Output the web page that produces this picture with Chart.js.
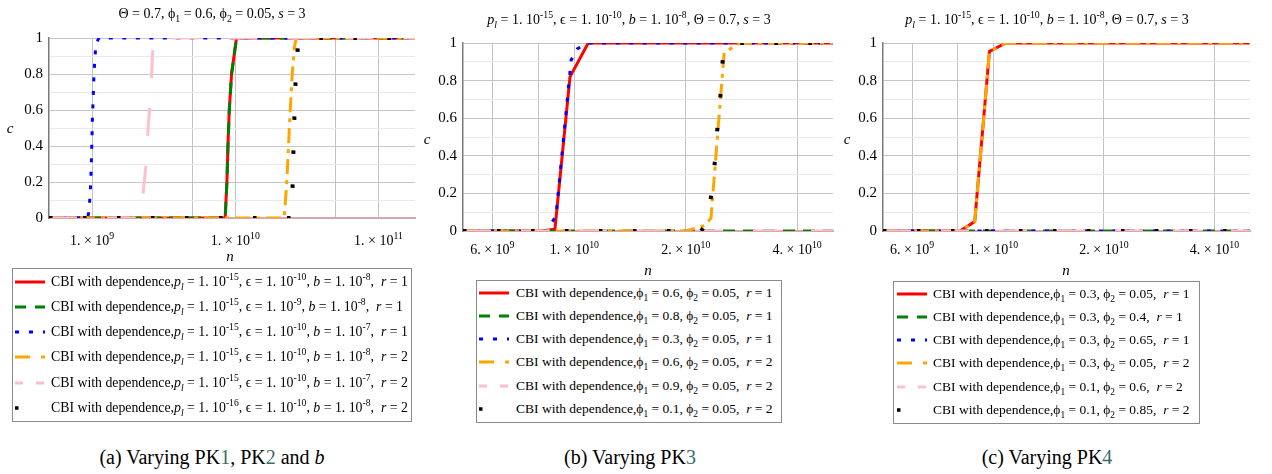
<!DOCTYPE html>
<html><head><meta charset="utf-8">
<script src="https://cdn.jsdelivr.net/npm/chart.js@4.4.0/dist/chart.umd.min.js"></script>
<style>
body{margin:0;background:#fff;width:1272px;height:474px;position:relative;overflow:hidden;font-family:"Liberation Serif","Times New Roman",serif;color:#000}
canvas{position:absolute}
.t{position:absolute;white-space:nowrap;transform:translateX(-50%);line-height:18px}
.ttl{font-size:14px}
.lab{font-style:italic;font-size:15px}
.xt{font-size:14px}
sub,sup{font-size:70%;line-height:0}
.lg{position:absolute;border:1.5px solid #8a8a8a;box-sizing:border-box;background:#fff}
.row{position:absolute;left:0;right:0;height:20px;white-space:nowrap}
.row svg{position:absolute;top:6px}
.row span{position:absolute;top:0;line-height:20px}
.cap{position:absolute;white-space:nowrap;transform:translateX(-50%);font-size:20px;line-height:24px}
.lk{color:#3a6b6b}
</style></head><body>
<canvas id="ca" width="425" height="250" style="left:0;top:0"></canvas>
<canvas id="cb" width="415" height="263" style="left:430px;top:0"></canvas>
<canvas id="cc" width="422" height="263" style="left:850px;top:0"></canvas>

<div class="t ttl" style="left:212px;top:5px">&Theta; = 0.7, &#981;<sub>1</sub> = 0.6, &#981;<sub>2</sub> = 0.05, <i>s</i> = 3</div>
<div class="t ttl" style="left:629px;top:11px"><i>p</i><sub><i>l</i></sub> = 1. 10<sup>-15</sup>, &#1013; = 1. 10<sup>-10</sup>, <i>b</i> = 1. 10<sup>-8</sup>, &Theta; = 0.7, <i>s</i> = 3</div>
<div class="t ttl" style="left:1047px;top:11px"><i>p</i><sub><i>l</i></sub> = 1. 10<sup>-15</sup>, &#1013; = 1. 10<sup>-10</sup>, <i>b</i> = 1. 10<sup>-8</sup>, &Theta; = 0.7, <i>s</i> = 3</div>

<div class="t lab" style="left:10px;top:119px">c</div>
<div class="t lab" style="left:427px;top:130px">c</div>
<div class="t lab" style="left:847px;top:130px">c</div>
<div class="t lab" style="left:230px;top:247px">n</div>
<div class="t lab" style="left:648px;top:261px">n</div>
<div class="t lab" style="left:1066px;top:261px">n</div>

<div id="lga" class="lg" style="left:12px;top:268px;width:400px;height:154px"></div>
<div id="lgb" class="lg" style="left:476px;top:280px;width:306px;height:143px"></div>
<div id="lgc" class="lg" style="left:893px;top:281px;width:307px;height:143px"></div>

<div class="cap" style="left:212px;top:445px">(a) Varying PK<span class="lk">1</span>, PK<span class="lk">2</span> and <i>b</i></div>
<div class="cap" style="left:630px;top:445px">(b) Varying PK<span class="lk">3</span></div>
<div class="cap" style="left:1047px;top:445px">(c) Varying PK<span class="lk">4</span></div>

<script>
// ---------- data ----------
// Panel (a): x = n (log), y = c
const aRedN   = [5e8, 8.5e9, 8.74e9, 8.89e9, 9.08e9, 9.42e9, 1.02e10, 1.8e11];
const aRedC   = [0, 0, 0.2, 0.4, 0.6, 0.8, 1, 1];
const aGreenN = [5e8, 8.5e9, 8.74e9, 8.89e9, 9.08e9, 9.42e9, 1.02e10, 1.8e11];
const aGreenC = [0, 0, 0.2, 0.4, 0.6, 0.8, 1, 1];
const aBlueN  = [5e8, 9.3e8, 9.53e8, 9.79e8, 9.95e8, 1.005e9, 1.021e9, 1.033e9, 1.05e9, 1.062e9, 1.12e9, 1.8e11];
const aBlueC  = [0, 0, 0.04, 0.2, 0.4, 0.55, 0.7, 0.82, 0.9, 0.97, 1, 1];
const aOrangeN= [5e8, 2.19e10, 2.21e10, 2.29e10, 2.42e10, 2.50e10, 2.59e10, 2.67e10, 1.8e11];
const aOrangeC= [0, 0, 0.03, 0.2, 0.6, 0.8, 0.95, 1, 1];
const aPinkN  = [5e8, 2.18e9, 2.28e9, 2.38e9, 2.47e9, 2.58e9, 2.62e9, 2.68e9, 1.8e11];
const aPinkC  = [0, 0, 0.15, 0.3, 0.52, 0.69, 0.85, 1, 1];
const aBlackN = [5e8, 2.44e10, 2.46e10, 2.52e10, 2.55e10, 2.59e10, 2.64e10, 2.74e10, 2.81e10, 1.8e11];
const aBlackC = [0, 0, 0.01, 0.2, 0.39, 0.57, 0.77, 0.96, 1, 1];

// Panel (b)
const bRedN   = [5e9, 8.13e9, 8.86e9, 9.73e9, 1.09e10, 5e10];
const bRedC   = [0, 0, 0.01, 0.82, 1, 1];
const bGreenN = [5e9, 5e10];
const bGreenC = [0, 0];
const bBlueN  = [5e9, 8.4e9, 8.59e9, 8.92e9, 9.8e9, 1.02e10, 1.09e10, 5e10];
const bBlueC  = [0, 0, 0.03, 0.08, 0.91, 0.97, 1, 1];
const bOrangeN= [5e9, 2.0e10, 2.26e10, 2.34e10, 2.54e10, 2.70e10, 2.8e10, 5e10];
const bOrangeC= [0, 0, 0.03, 0.07, 0.95, 0.98, 1, 1];
const bPinkN  = [5e9, 5e10];
const bPinkC  = [0, 0];
const bBlackN = [5e9, 2.2e10, 2.26e10, 2.35e10, 2.40e10, 2.44e10, 2.49e10, 2.52e10, 2.6e10, 5e10];
const bBlackC = [0, 0, 0.03, 0.2, 0.38, 0.57, 0.75, 0.93, 1, 1];

// Panel (c)
const cRedN   = [5e9, 8.1e9, 8.89e9, 9.75e9, 1.08e10, 5e10];
const cRedC   = [0, 0, 0.05, 0.955, 1, 1];
const cGreenN = [5e9, 5e10];
const cGreenC = [0, 0];
const cBlueN  = [5e9, 5e10];
const cBlueC  = [0, 0];
const cOrangeN= [5e9, 8.1e9, 8.89e9, 9.75e9, 1.08e10, 5e10];
const cOrangeC= [0, 0, 0.05, 0.955, 1, 1];
const cPinkN  = [5e9, 5e10];
const cPinkC  = [0, 0];
const cBlackN = [5e9, 5e10];
const cBlackC = [0, 0];

// ticks
const aXTicks = [1e9, 5e9, 1e10, 5e10, 1e11];
const aXLabels = ['1. × 10<sup>9</sup>', '', '1. × 10<sup>10</sup>', '', '1. × 10<sup>11</sup>'];
const bcXTicks = [6e9, 8e9, 1e10, 2e10, 4e10];
const bcXLabels = ['6. × 10<sup>9</sup>', '', '1. × 10<sup>10</sup>', '2. × 10<sup>10</sup>', '4. × 10<sup>10</sup>'];
const yLabels = ['0', '0.2', '0.4', '0.6', '0.8', '1'];

// legends
const legA = [
 'CBI with dependence,<i>p</i><sub><i>l</i></sub> = 1. 10<sup>-15</sup>, &#1013; = 1. 10<sup>-10</sup>, <i>b</i> = 1. 10<sup>-8</sup>,&nbsp; <i>r</i> = 1',
 'CBI with dependence,<i>p</i><sub><i>l</i></sub> = 1. 10<sup>-15</sup>, &#1013; = 1. 10<sup>-9</sup>, <i>b</i> = 1. 10<sup>-8</sup>,&nbsp; <i>r</i> = 1',
 'CBI with dependence,<i>p</i><sub><i>l</i></sub> = 1. 10<sup>-15</sup>, &#1013; = 1. 10<sup>-10</sup>, <i>b</i> = 1. 10<sup>-7</sup>,&nbsp; <i>r</i> = 1',
 'CBI with dependence,<i>p</i><sub><i>l</i></sub> = 1. 10<sup>-15</sup>, &#1013; = 1. 10<sup>-10</sup>, <i>b</i> = 1. 10<sup>-8</sup>,&nbsp; <i>r</i> = 2',
 'CBI with dependence,<i>p</i><sub><i>l</i></sub> = 1. 10<sup>-15</sup>, &#1013; = 1. 10<sup>-10</sup>, <i>b</i> = 1. 10<sup>-7</sup>,&nbsp; <i>r</i> = 2',
 'CBI with dependence,<i>p</i><sub><i>l</i></sub> = 1. 10<sup>-16</sup>, &#1013; = 1. 10<sup>-10</sup>, <i>b</i> = 1. 10<sup>-8</sup>,&nbsp; <i>r</i> = 2'
];
const legB = [
 'CBI with dependence,&#981;<sub>1</sub> = 0.6, &#981;<sub>2</sub> = 0.05,&nbsp; <i>r</i> = 1',
 'CBI with dependence,&#981;<sub>1</sub> = 0.8, &#981;<sub>2</sub> = 0.05,&nbsp; <i>r</i> = 1',
 'CBI with dependence,&#981;<sub>1</sub> = 0.3, &#981;<sub>2</sub> = 0.05,&nbsp; <i>r</i> = 1',
 'CBI with dependence,&#981;<sub>1</sub> = 0.6, &#981;<sub>2</sub> = 0.05,&nbsp; <i>r</i> = 2',
 'CBI with dependence,&#981;<sub>1</sub> = 0.9, &#981;<sub>2</sub> = 0.05,&nbsp; <i>r</i> = 2',
 'CBI with dependence,&#981;<sub>1</sub> = 0.1, &#981;<sub>2</sub> = 0.05,&nbsp; <i>r</i> = 2'
];
const legC = [
 'CBI with dependence,&#981;<sub>1</sub> = 0.3, &#981;<sub>2</sub> = 0.05,&nbsp; <i>r</i> = 1',
 'CBI with dependence,&#981;<sub>1</sub> = 0.3, &#981;<sub>2</sub> = 0.4,&nbsp; <i>r</i> = 1',
 'CBI with dependence,&#981;<sub>1</sub> = 0.3, &#981;<sub>2</sub> = 0.65,&nbsp; <i>r</i> = 1',
 'CBI with dependence,&#981;<sub>1</sub> = 0.3, &#981;<sub>2</sub> = 0.05,&nbsp; <i>r</i> = 2',
 'CBI with dependence,&#981;<sub>1</sub> = 0.1, &#981;<sub>2</sub> = 0.6,&nbsp; <i>r</i> = 2',
 'CBI with dependence,&#981;<sub>1</sub> = 0.1, &#981;<sub>2</sub> = 0.85,&nbsp; <i>r</i> = 2'
];

// ---------- styles ----------
const COLORS = ['#ff0000', '#008000', '#0000ff', '#ffa500', '#ffc0cb', '#000000'];
const WIDTHS = [3, 3, 3, 3, 3, 4];
const DASH   = [[], [12, 8], [4, 9.5], [15, 6, 4, 6], [28, 30], [3.5, 30.5]];
const LDASH  = ['', '11 9', '4 10', '15 11 5 11', '8 13', '3.5 60'];

function pts(n, c) { return n.map((v, i) => ({x: v, y: c[i]})); }

function makeChart(id, series, xmin, xmax, xTicks, xLabels, yW, pad, left, labelTop) {
  const datasets = series.map((s, i) => ({
    data: pts(s[0], s[1]),
    borderColor: COLORS[i], borderWidth: WIDTHS[i], borderDash: DASH[i],
    borderCapStyle: 'butt', pointRadius: 0, tension: 0, fill: false,
    order: 6 - i
  }));
  const ch = new Chart(document.getElementById(id), {
    type: 'line',
    data: {datasets},
    options: {
      responsive: false, animation: false, devicePixelRatio: 1,
      layout: {padding: pad},
      plugins: {legend: {display: false}, tooltip: {enabled: false}, title: {display: false}},
      scales: {
        x: {
          type: 'logarithmic', min: xmin, max: xmax,
          afterBuildTicks: (s) => { s.ticks = xTicks.map(v => ({value: v})); },
          afterFit: (s) => { s.height = 32; },
          ticks: {autoSkip: false, maxRotation: 0, minRotation: 0, padding: 15, color: '#000',
                  font: {family: 'Liberation Serif', size: 14},
                  callback: () => ''},
          grid: {drawTicks: false, color: '#c3c3c3', lineWidth: 1},
          border: {color: '#d8a7ae', width: 2}
        },
        y: {
          type: 'linear', min: 0, max: 1,
          afterFit: (s) => { s.width = yW; },
          ticks: {stepSize: 0.1, autoSkip: false, padding: 6, color: '#000',
                  font: {family: 'Liberation Serif', size: 15},
                  callback: (v) => { const r = Math.round(v * 10); return r % 2 === 0 ? yLabels[r / 2] : ''; }},
          grid: {drawTicks: false, lineWidth: 1,
                 color: (c) => { const r = Math.round(c.tick.value * 10); if (r === 0) return 'rgba(0,0,0,0)'; return r % 2 === 0 ? '#c6c6c6' : '#e9e9e9'; }},
          border: {color: '#7a7a7a', width: 1.5}
        }
      }
    }
  });
  // x tick labels (with real superscripts) placed through the chart's own x scale
  const xs = ch.scales.x;
  xTicks.forEach((v, i) => {
    if (!xLabels[i]) return;
    const d = document.createElement('div');
    d.className = 't xt';
    d.style.left = (left + xs.getPixelForValue(v)) + 'px';
    d.style.top = labelTop + 'px';
    d.innerHTML = xLabels[i];
    document.body.appendChild(d);
  });
}

makeChart('ca', [[aRedN, aRedC], [aGreenN, aGreenC], [aBlueN, aBlueC], [aOrangeN, aOrangeC], [aPinkN, aPinkC], [aBlackN, aBlackC]],
  5e8, 1.8e11, aXTicks, aXLabels, 49, {top: 38, right: 10, left: 0, bottom: 0}, 0, 232);
makeChart('cb', [[bRedN, bRedC], [bGreenN, bGreenC], [bBlueN, bBlueC], [bOrangeN, bOrangeC], [bPinkN, bPinkC], [bBlackN, bBlackC]],
  5e9, 5e10, bcXTicks, bcXLabels, 33, {top: 43, right: 12, left: 0, bottom: 0}, 430, 241);
makeChart('cc', [[cRedN, cRedC], [cGreenN, cGreenC], [cBlueN, cBlueC], [cOrangeN, cOrangeC], [cPinkN, cPinkC], [cBlackN, cBlackC]],
  5e9, 5e10, bcXTicks, bcXLabels, 33, {top: 43, right: 22, left: 0, bottom: 0}, 850, 241);

// ---------- legends ----------
function buildLegend(id, labels, rowTop, rowStep, sx, tx, fs) {
  const el = document.getElementById(id);
  labels.forEach((lab, i) => {
    const r = document.createElement('div');
    r.className = 'row';
    r.style.top = (rowTop + i * rowStep - 10) + 'px';
    r.style.fontSize = fs + 'px';
    const dash = LDASH[i] ? ` stroke-dasharray="${LDASH[i]}"` : '';
    r.innerHTML = `<svg width="32" height="8" style="left:${sx}px"><line x1="0" y1="4" x2="30" y2="4" stroke="${COLORS[i]}" stroke-width="${WIDTHS[i] === 4 ? 3.5 : 3}"${dash}/></svg><span style="left:${tx}px">${lab}</span>`;
    el.appendChild(r);
  });
}
buildLegend('lga', legA, 12.5, 25.3, 2, 38, 13.8);
buildLegend('lgb', legB, 11.5, 23.3, 2, 39, 13.5);
buildLegend('lgc', legC, 11.5, 23.3, 3, 39, 13.5);
</script>
</body></html>
